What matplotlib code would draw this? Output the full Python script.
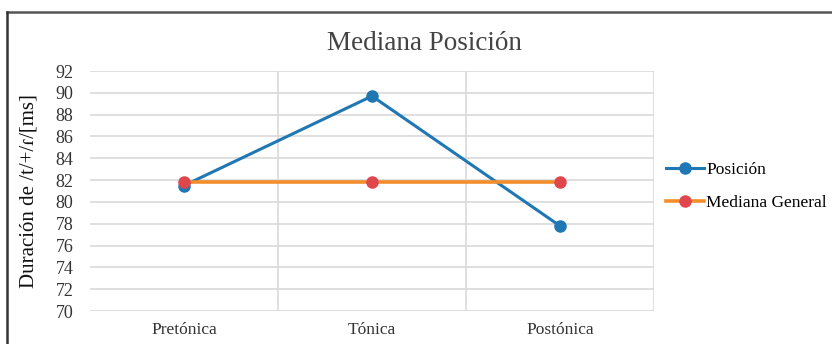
import matplotlib
matplotlib.use('Agg')
import matplotlib.pyplot as plt
from matplotlib.lines import Line2D

plt.rcParams['font.family'] = ['Liberation Serif', 'DejaVu Serif']

categorias = ['Pretónica', 'Tónica', 'Postónica']
posicion = [81.5, 89.7, 77.8]
mediana_general = [81.8, 81.8, 81.8]
yticks = list(range(70, 93, 2))

azul = '#1f77b4'
naranja = '#f28e2b'
rojo = '#e0474c'

fig = plt.figure(figsize=(8.32, 3.44), dpi=100)
ax = fig.add_axes([90/832, 1-311/344, (654-90)/832, (311-71)/344])

x = list(range(len(categorias)))
ax.plot(x, posicion, color=azul, lw=2.2, marker='o', ms=8,
        mfc=azul, mec=azul, label='Posición', zorder=3)
ax.plot(x, mediana_general, color=naranja, lw=2.6, marker='o', ms=8,
        mfc=rojo, mec=rojo, label='Mediana General', zorder=4)

ax.set_xlim(-0.5, 2.5)
ax.set_ylim(70, 92)
ax.set_yticks(yticks)
ax.set_xticks(x)
ax.set_xticklabels(categorias)
ax.tick_params(length=0, labelsize=12.5, colors='#333333', pad=8)
ax.tick_params(axis='y', labelsize=13, pad=12)

# gridlines like a spreadsheet chart
for y in yticks:
    ax.axhline(y, color='#d9d9d9', lw=1.2, zorder=1)
for b in [0.5, 1.5, 2.5]:
    ax.axvline(b, color='#d9d9d9', lw=1.2, zorder=1)
for s in ax.spines.values():
    s.set_visible(False)

ax.set_ylabel('Duración de /t/+/ɾ/[ms]', fontsize=15, color='#111111', labelpad=12)
fig.text(424/832, 1-43/344, 'Mediana Posición', ha='center', va='center',
         fontsize=19.5, color='#444444')

ax.legend(loc='center left', bbox_to_anchor=(1.0, 0.52), frameon=False,
          fontsize=12.5, handlelength=2.2, handletextpad=0.1, labelspacing=0.95,
          borderaxespad=0.3)

# outer frame
fig.add_artist(Line2D([6.5/832, 1.0], [1-11.5/344]*2, color='#555555', lw=1.8))
fig.add_artist(Line2D([6.5/832]*2, [0, 1-11.5/344], color='#333333', lw=1.8))

fig.savefig('out.png', dpi=100)
